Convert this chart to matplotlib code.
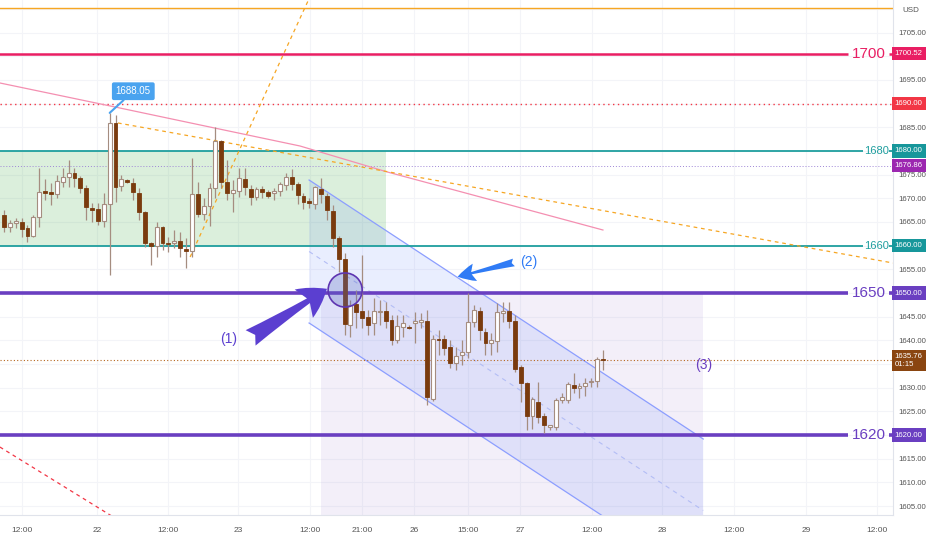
import matplotlib
matplotlib.use("Agg")
import matplotlib.pyplot as plt
from matplotlib.patches import Rectangle, Ellipse, Polygon
import numpy as np

plt.rcParams["font.family"] = ["Liberation Sans", "DejaVu Sans"]

# hourly candles, OHLC
opens = [1666.48, 1663.94, 1664.79, 1665.00, 1663.73, 1662.04, 1666.06, 1671.55, 1671.34, 1670.92,
         1673.45, 1674.51, 1675.35, 1674.30, 1672.18, 1667.96, 1667.75, 1665.21, 1668.80, 1685.92,
         1672.61, 1673.87, 1673.24, 1671.13, 1667.11, 1660.56, 1659.93, 1663.94, 1660.56, 1660.56,
         1660.99, 1659.30, 1658.87, 1670.92, 1666.69, 1668.38, 1672.18, 1682.11, 1673.45, 1671.13,
         1671.55, 1674.09, 1671.97, 1670.28, 1671.97, 1671.34, 1671.13, 1671.55, 1672.82, 1674.51,
         1673.03, 1670.49, 1669.44, 1668.80, 1671.97, 1670.49, 1667.33, 1661.62, 1657.18, 1643.24,
         1647.68, 1646.20, 1644.93, 1643.66, 1645.99, 1646.20, 1644.30, 1640.07, 1642.82, 1642.82,
         1643.66, 1643.87, 1644.08, 1627.60, 1640.28, 1640.28, 1638.59, 1635.21, 1636.90, 1637.53,
         1643.87, 1646.20, 1641.76, 1639.44, 1639.86, 1645.77, 1646.20, 1644.08, 1634.37, 1630.98,
         1624.01, 1626.97, 1624.01, 1621.69, 1621.69, 1627.39, 1627.39, 1630.56, 1629.93, 1630.35,
         1631.20, 1631.41, 1636.06]
highs = [1667.54, 1665.42, 1665.85, 1665.85, 1664.37, 1666.48, 1676.41, 1674.09, 1673.24, 1674.93,
         1676.41, 1678.10, 1676.41, 1674.72, 1672.82, 1669.02, 1669.02, 1671.13, 1688.05, 1687.60,
         1674.93, 1674.10, 1674.30, 1672.18, 1667.30, 1660.78, 1665.00, 1664.20, 1661.83, 1663.31,
         1662.89, 1661.62, 1678.52, 1673.45, 1670.07, 1673.24, 1685.07, 1682.33, 1678.10, 1673.87,
         1676.41, 1676.41, 1672.82, 1672.40, 1672.60, 1671.76, 1672.18, 1673.45, 1675.35, 1676.20,
         1673.45, 1671.13, 1670.07, 1672.50, 1674.30, 1671.13, 1668.59, 1662.04, 1658.45, 1648.52,
         1650.63, 1658.03, 1646.41, 1648.94, 1648.52, 1648.10, 1645.35, 1645.35, 1645.35, 1643.30,
         1645.99, 1645.77, 1646.41, 1641.13, 1642.18, 1641.13, 1640.07, 1638.59, 1640.07, 1650.00,
         1647.46, 1647.04, 1642.61, 1641.55, 1647.89, 1648.10, 1648.10, 1645.35, 1634.79, 1631.20,
         1628.03, 1631.20, 1624.65, 1622.20, 1627.82, 1628.87, 1631.20, 1633.10, 1630.98, 1632.04,
         1632.04, 1636.48, 1637.96]
lows = [1662.89, 1662.89, 1663.73, 1661.83, 1660.78, 1661.83, 1663.94, 1669.65, 1668.59, 1670.07,
        1672.40, 1672.40, 1672.40, 1671.13, 1665.42, 1665.00, 1664.37, 1663.94, 1653.80, 1669.23,
        1671.55, 1673.20, 1669.65, 1665.42, 1659.72, 1655.92, 1657.61, 1659.09, 1658.66, 1659.51,
        1657.61, 1655.28, 1657.61, 1666.06, 1665.42, 1664.16, 1670.07, 1672.18, 1669.65, 1667.11,
        1670.28, 1670.71, 1668.59, 1669.65, 1670.07, 1670.07, 1669.65, 1670.49, 1671.76, 1671.76,
        1668.80, 1667.75, 1667.96, 1667.75, 1669.02, 1665.42, 1659.72, 1654.44, 1641.13, 1640.70,
        1642.61, 1642.61, 1641.13, 1641.13, 1643.24, 1642.61, 1639.01, 1639.44, 1640.70, 1642.30,
        1639.44, 1642.61, 1626.34, 1627.18, 1636.90, 1636.90, 1634.15, 1633.73, 1634.79, 1636.27,
        1642.82, 1640.07, 1636.90, 1636.90, 1637.53, 1643.87, 1642.61, 1633.31, 1626.97, 1621.05,
        1621.27, 1622.53, 1620.42, 1621.05, 1621.05, 1626.76, 1626.76, 1628.87, 1627.82, 1628.24,
        1630.14, 1630.14, 1633.73]
closes = [1663.94, 1664.79, 1665.21, 1663.52, 1662.04, 1666.06, 1671.34, 1671.13, 1670.92, 1673.66,
          1674.51, 1675.35, 1674.30, 1672.18, 1668.17, 1667.54, 1665.21, 1668.80, 1685.92, 1672.40,
          1674.09, 1673.45, 1671.34, 1667.11, 1660.56, 1659.93, 1663.94, 1660.56, 1660.35, 1660.99,
          1659.51, 1658.87, 1670.92, 1666.69, 1668.38, 1672.18, 1682.11, 1673.45, 1671.13, 1671.76,
          1674.30, 1672.40, 1670.28, 1671.97, 1671.34, 1670.49, 1671.55, 1673.03, 1674.51, 1673.03,
          1670.71, 1669.23, 1669.02, 1672.40, 1670.92, 1667.54, 1661.62, 1657.18, 1643.45, 1647.46,
          1645.99, 1644.72, 1643.24, 1646.20, 1646.20, 1644.08, 1640.07, 1643.03, 1643.66, 1642.61,
          1644.08, 1644.30, 1628.03, 1640.28, 1640.07, 1638.38, 1635.21, 1636.69, 1637.53, 1643.87,
          1646.41, 1642.18, 1639.44, 1640.07, 1645.99, 1646.20, 1644.08, 1633.94, 1630.98, 1624.01,
          1627.60, 1623.80, 1622.11, 1622.11, 1627.39, 1628.03, 1630.77, 1629.93, 1630.35, 1630.98,
          1631.41, 1636.06, 1635.76]

tick_pos = [3.1, 15.8, 27.9, 39.9, 52.1, 61.0, 69.8, 79.0, 87.9, 100.2, 112.1, 124.4, 136.6, 148.6]
tick_labels = ["12:00", "22", "12:00", "23", "12:00", "21:00", "26", "15:00", "27",
               "12:00", "28", "12:00", "29", "12:00"]

# drawing objects (bar index, price)
ma_x = [-0.7, 18.1, 33.4, 50.4, 65.3, 86.2, 102.0]
ma_y = [1694.37, 1689.51, 1685.50, 1681.06, 1675.56, 1668.59, 1663.31]
trend1_x = [19.4, 151.4]
trend1_y = [1685.92, 1656.34]
trend2_x = [31.7, 53.0]
trend2_y = [1657.61, 1715.0]
trend3_x = [-0.7, 18.9]
trend3_y = [1617.46, 1602.46]
chan_x = [51.96, 119.08]
chan_top = [1673.87, 1619.15]
chan_bot = [1643.66, 1588.94]
zone_x = [-1.0, 65.08]
zone_y = [1660.0, 1680.0]
box_x = [54.0, 119.08]
box_top = 1650.0

last_price = 1635.76
high_price = 1688.05

fig = plt.figure(figsize=(9.32, 5.5), dpi=100)
ax = fig.add_axes([0, 35 / 550, 893 / 932, 515 / 550])
ax.set_xlim(-0.68, 151.4)
ax.set_ylim(1603.1, 1711.9)

# grid
for yv in range(1605, 1711, 5):
    ax.axhline(yv, color="#f3f4f8", lw=0.8, zorder=0)
for xv in tick_pos:
    ax.axvline(xv, color="#f3f4f8", lw=0.8, zorder=0)

# shaded zones
ax.add_patch(Rectangle((zone_x[0], zone_y[0]), zone_x[1] - zone_x[0], zone_y[1] - zone_y[0],
                       fc="#4caf50", alpha=0.2, ec="none", zorder=0.5))
ax.add_patch(Rectangle((box_x[0], 1590), box_x[1] - box_x[0], box_top - 1590,
                       fc="#9575cd", alpha=0.11, ec="none", zorder=0.5))
ax.add_patch(Polygon([(chan_x[0], chan_top[0]), (chan_x[1], chan_top[1]),
                      (chan_x[1], chan_bot[1]), (chan_x[0], chan_bot[0])],
                     fc="#5c7cfa", alpha=0.13, ec="none", zorder=0.6))
ax.plot(chan_x, chan_top, color="#8c9eff", lw=0.9, zorder=1)
ax.plot(chan_x, chan_bot, color="#8c9eff", lw=0.9, zorder=1)
ax.plot(chan_x, [(a + b) / 2 for a, b in zip(chan_top, chan_bot)],
        color="#b3bdf5", lw=0.8, ls=(0, (4, 4)), zorder=1)

# horizontal levels
ax.axhline(1710.2, color="#f6a623", lw=1, zorder=1)
ax.axhline(1690.0, color="#f23645", lw=1, ls=(0, (1, 2.5)), zorder=1)
ax.axhline(1676.86, color="#9e86d6", lw=0.7, ls=(0, (1, 2)), zorder=1)
ax.axhline(last_price, color="#b5651d", lw=0.8, ls=(0, (1, 2)), zorder=1)

def level(price, color, lw, label, fs, x_end, x_gap):
    ax.plot([-1, x_end], [price, price], color=color, lw=lw, zorder=1.2, solid_capstyle="butt")
    ax.plot([150.8, 152], [price, price], color=color, lw=lw, zorder=1.2, solid_capstyle="butt")
    ax.text(x_gap, price, label, color=color, fontsize=fs, ha="center", va="center", zorder=5)

level(1700.52, "#e91e63", 1.8, "1700", 11, 143.8, 147.3)
level(1680.0, "#1e9e9e", 1.3, "1680", 8, 146.3, 148.6)
level(1660.0, "#1e9e9e", 1.3, "1660", 8, 146.3, 148.6)
level(1650.0, "#6a3fc1", 2.6, "1650", 11, 143.8, 147.3)
level(1620.0, "#6a3fc1", 2.6, "1620", 11, 143.8, 147.3)

# trend lines and MA
ax.plot(ma_x, ma_y, color="#f48fb1", lw=0.9, zorder=1.5)
ax.plot(trend1_x, trend1_y, color="#f6a623", lw=0.9, ls=(0, (3, 3)), zorder=1.5)
ax.plot(trend2_x, trend2_y, color="#f6a623", lw=0.9, ls=(0, (3, 3)), zorder=1.5)
ax.plot(trend3_x, trend3_y, color="#f23645", lw=0.9, ls=(0, (3, 3)), zorder=1.5)

# candles
x = np.arange(len(opens))
o = np.array(opens); c = np.array(closes)
up = c >= o
wick_col = "#a58d80"
ax.vlines(x, lows, highs, color=wick_col, lw=0.9, zorder=2)
ax.bar(x[up], (c - o)[up], bottom=o[up], width=0.66, color="white",
       edgecolor="#a58d80", linewidth=0.8, zorder=3)
ax.bar(x[~up], (o - c)[~up], bottom=c[~up], width=0.66, color="#7a3b0e",
       edgecolor="#7a3b0e", linewidth=0.6, zorder=3)

# circle
ax.add_patch(Ellipse((58.1, 1650.63), 5.8, 7.2, fc="#5c6bc0", alpha=0.3, ec="none", zorder=4))
ax.add_patch(Ellipse((58.1, 1650.63), 5.8, 7.2, fc="none", ec="#5e35b1", lw=1.2, zorder=4))

# arrows and labels
ax.annotate("", xy=(55.4, 1651.2), xytext=(41.6, 1640.2),
            arrowprops=dict(arrowstyle="fancy,head_length=0.9,head_width=1.1,tail_width=0.6",
                            fc="#5b3fd0", ec="none", mutation_scale=22), zorder=6)
ax.text(38.3, 1640.3, "(1)", color="#5b3fd0", fontsize=10, ha="center", va="center")
ax.annotate("", xy=(76.8, 1653.3), xytext=(87.3, 1656.6),
            arrowprops=dict(arrowstyle="fancy,head_length=0.8,head_width=0.8,tail_width=0.35",
                            fc="#2f7bf5", ec="none", mutation_scale=16), zorder=6)
ax.text(89.3, 1656.6, "(2)", color="#2f7bf5", fontsize=10, ha="center", va="center")
ax.text(119.1, 1634.7, "(3)", color="#6a3fc1", fontsize=10, ha="center", va="center")

ax.annotate(f"{high_price:.2f}", xy=(18, high_price), xytext=(17, 12), textcoords="offset points",
            fontsize=7, color="white", ha="center", va="bottom",
            bbox=dict(boxstyle="round,pad=0.4,rounding_size=0.2", fc="#4aa3ef", ec="none"),
            arrowprops=dict(arrowstyle="-", color="#4aa3ef", lw=1.5, shrinkA=0, shrinkB=0),
            zorder=7)

# axes styling
for s in ["left", "top"]:
    ax.spines[s].set_visible(False)
ax.spines["right"].set_color("#e0e3eb")
ax.spines["bottom"].set_color("#e0e3eb")
ax.yaxis.tick_right()
ax.set_yticks(range(1605, 1706, 5))
ax.set_yticklabels([f"{v:.2f}" for v in range(1605, 1706, 5)])
ax.tick_params(axis="y", length=0, pad=4, labelsize=5.6, labelcolor="#555555")
ax.set_xticks(tick_pos)
ax.set_xticklabels(tick_labels)
ax.tick_params(axis="x", length=0, pad=9, labelsize=6, labelcolor="#555555")
ax.text(1.01, 0.98, "USD", transform=ax.transAxes, fontsize=5.8, color="#555555",
        ha="left", va="center")

tr = ax.get_yaxis_transform()
def price_tag(price, text, color):
    ax.text(1.002, price, text, transform=tr, fontsize=5.6, color="white", ha="left", va="center",
            bbox=dict(boxstyle="square,pad=0.4", fc=color, ec="none"), zorder=8, clip_on=False)

price_tag(1700.52, "1700.52", "#e91e63")
price_tag(1690.0, "1690.00", "#f23645")
price_tag(1680.0, "1680.00", "#17979b")
price_tag(1676.86, "1676.86", "#9c27b0")
price_tag(1660.0, "1660.00", "#17979b")
price_tag(1650.0, "1650.00", "#6a3fc1")
price_tag(last_price, f"{last_price:.2f}\n01:15", "#8a4510")
price_tag(1620.0, "1620.00", "#6a3fc1")

fig.savefig("out.png", dpi=100)
